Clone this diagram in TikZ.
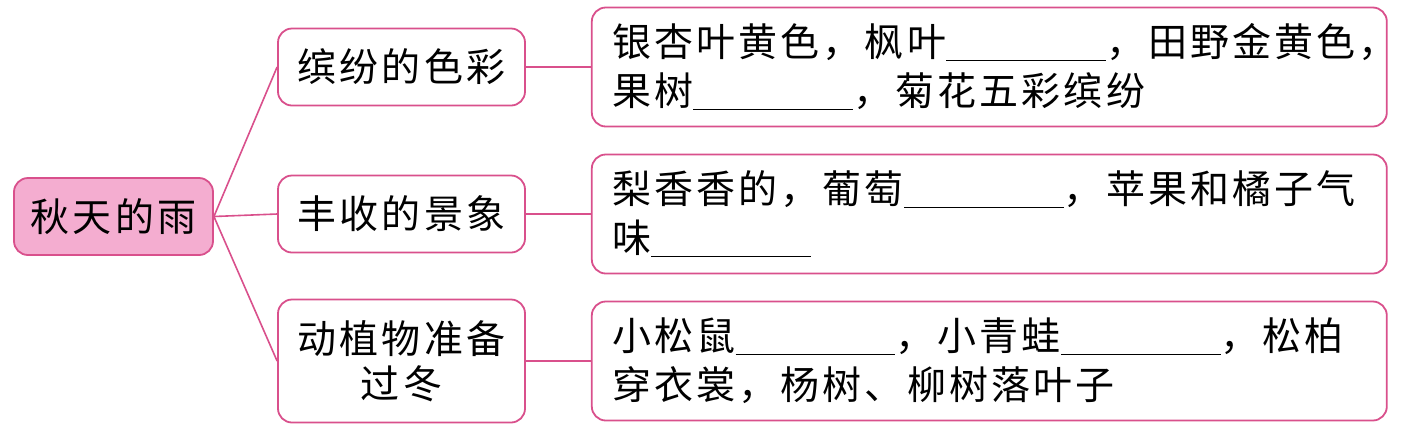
\documentclass[tikz,border=0pt]{standalone}
\usepackage{fontspec}
\usepackage{tikz}
\usetikzlibrary{positioning}
\setmainfont{Noto Sans CJK SC}[LetterSpace=8]
\definecolor{rim}{HTML}{D9508C}
\definecolor{blush}{HTML}{F4ADD0}
\newcommand{\blank}{\rule[-0.12em]{4.1em}{0.9pt}}

\begin{document}
\begin{tikzpicture}[x=0.5pt,y=-0.5pt,node distance=32.5pt,
base/.style={draw=rim,line width=0.9pt,rounded corners=7pt,inner sep=0pt,font=\fontsize{19.5}{24.5}\selectfont},
rootbox/.style={base,fill=blush,minimum width=99.5pt,minimum height=38.5pt},
midbox/.style={base,fill=white,minimum width=123.5pt,minimum height=38.5pt,align=center},
infobox/.style={base,fill=white,minimum width=397.5pt,minimum height=59.5pt,align=left,text width=377pt},
link/.style={draw=rim,line width=0.8pt}]
\useasboundingbox (0,0) rectangle (1403,436);
\node[rootbox] (rain) at (113.5,216.5) {秋天的雨};
\node[midbox] (colour) at (401.5,67) {缤纷的色彩};
\node[midbox] (harvest) at (401.5,214) {丰收的景象};
\node[midbox,minimum height=61.5pt,font=\fontsize{19.5}{22.5}\selectfont] (winter) at (401.5,361) {动植物准备\\过冬};
\node[infobox,right=of colour] (colourtxt) {银杏叶黄色，枫叶\blank，田野金黄色，\\果树\blank，菊花五彩缤纷};
\node[infobox,right=of harvest] (harvesttxt) {梨香香的，葡萄\blank，苹果和橘子气\\味\blank};
\node[infobox,right=of winter] (wintertxt) {小松鼠\blank，小青蛙\blank，松柏\\穿衣裳，杨树、柳树落叶子};
% branches
\draw[link] (rain.east)--(colour.west);
\draw[link] (rain.east)--(harvest.west);
\draw[link] (rain.east)--(winter.west);
\draw[link] (colour)--(colourtxt);
\draw[link] (harvest)--(harvesttxt);
\draw[link] (winter)--(wintertxt);
\end{tikzpicture}
\end{document}
